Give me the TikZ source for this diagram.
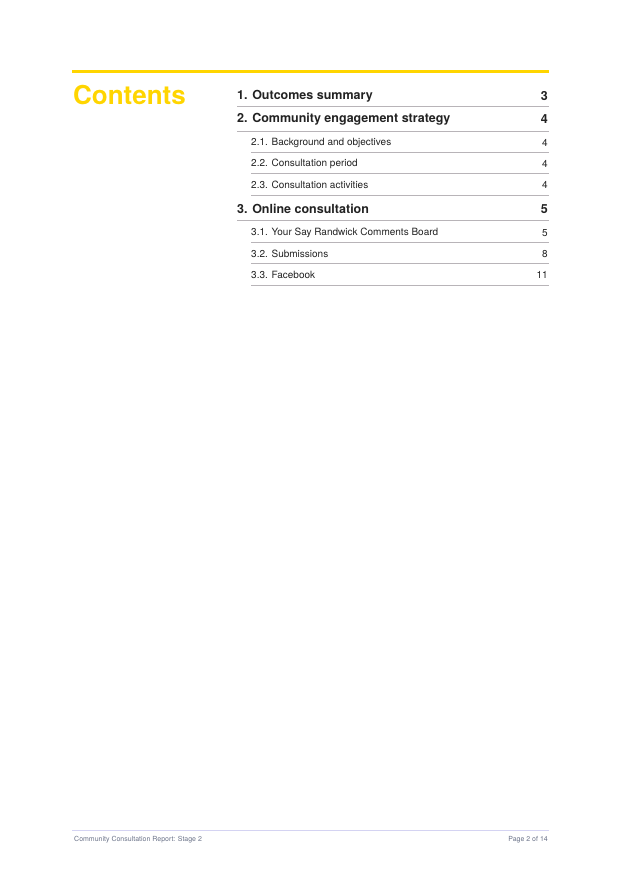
\documentclass[tikz,border=0pt]{standalone}
\usepackage{fontspec}
\setmainfont{TeX Gyre Heros}
\usepackage{tikz}
\definecolor{rryellow}{HTML}{FFD500}
\definecolor{rrtext}{HTML}{222222}
\definecolor{rrrule}{HTML}{B8B4B8}
\definecolor{rrfoot}{HTML}{6A7288}
\tikzset{
    head/.style={anchor=west, inner sep=0pt, text=rrtext, font=\fontsize{12.5}{14}\selectfont\bfseries},
    sub/.style={anchor=west, inner sep=0pt, text=rrtext, font=\fontsize{10}{12}\selectfont},
    headnum/.style={head, anchor=east},
    subnum/.style={sub, anchor=east},
    sep/.style={draw=rrrule, line width=0.9pt},
}
\begin{document}
\begin{tikzpicture}[x=1pt, y=-1pt]
    \useasboundingbox (0, 0) rectangle (622, 879);
    \draw[rryellow, line width=3pt] (72, 71) -- (549, 71);
    \node[anchor=west, inner sep=0pt, text=rryellow, font=\fontsize{26}{28}\selectfont\bfseries] at (73, 95) (title) {Contents};

    \node[head] at (237, 96) (S1) {1. Outcomes summary};
    \node[headnum] at (548, 96) (P1) {3};
    \node[head] at (237, 119) (S2) {2. Community engagement strategy};
    \node[headnum] at (548, 119) (P2) {4};
    \node[sub] at (251, 143) (S21) {2.1. Background and objectives};
    \node[subnum] at (548, 143) (P21) {4};
    \node[sub] at (251, 164) (S22) {2.2. Consultation period};
    \node[subnum] at (548, 164) (P22) {4};
    \node[sub] at (251, 185) (S23) {2.3. Consultation activities};
    \node[subnum] at (548, 185) (P23) {4};
    \node[head] at (237, 209) (S3) {3. Online consultation};
    \node[headnum] at (548, 209) (P3) {5};
    \node[sub] at (251, 233) (S31) {3.1. Your Say Randwick Comments Board};
    \node[subnum] at (548, 233) (P31) {5};
    \node[sub] at (251, 254) (S32) {3.2. Submissions};
    \node[subnum] at (548, 254) (P32) {8};
    \node[sub] at (251, 275) (S33) {3.3. Facebook};
    \node[subnum] at (548, 275) (P33) {11};

    \draw[sep] (237, 106) -- (549, 106);
    \draw[sep] (237, 131) -- (549, 131);
    \draw[sep] (251, 152) -- (549, 152);
    \draw[sep] (251, 173) -- (549, 173);
    \draw[sep] (251, 195) -- (549, 195);
    \draw[sep] (237, 220) -- (549, 220);
    \draw[sep] (251, 242) -- (549, 242);
    \draw[sep] (251, 263) -- (549, 263);
    \draw[sep] (251, 285) -- (549, 285);

    \draw[draw=rrrule!60!blue!30, line width=0.6pt] (72, 830) -- (549, 830);
    \node[anchor=west, inner sep=0pt, text=rrfoot, font=\fontsize{7}{8}\selectfont] at (74, 840) (foot) {Community Consultation Report: Stage 2};
    \node[anchor=east, inner sep=0pt, text=rrfoot, font=\fontsize{7}{8}\selectfont] at (548, 840) (page) {Page 2 of 14};
\end{tikzpicture}
\end{document}
